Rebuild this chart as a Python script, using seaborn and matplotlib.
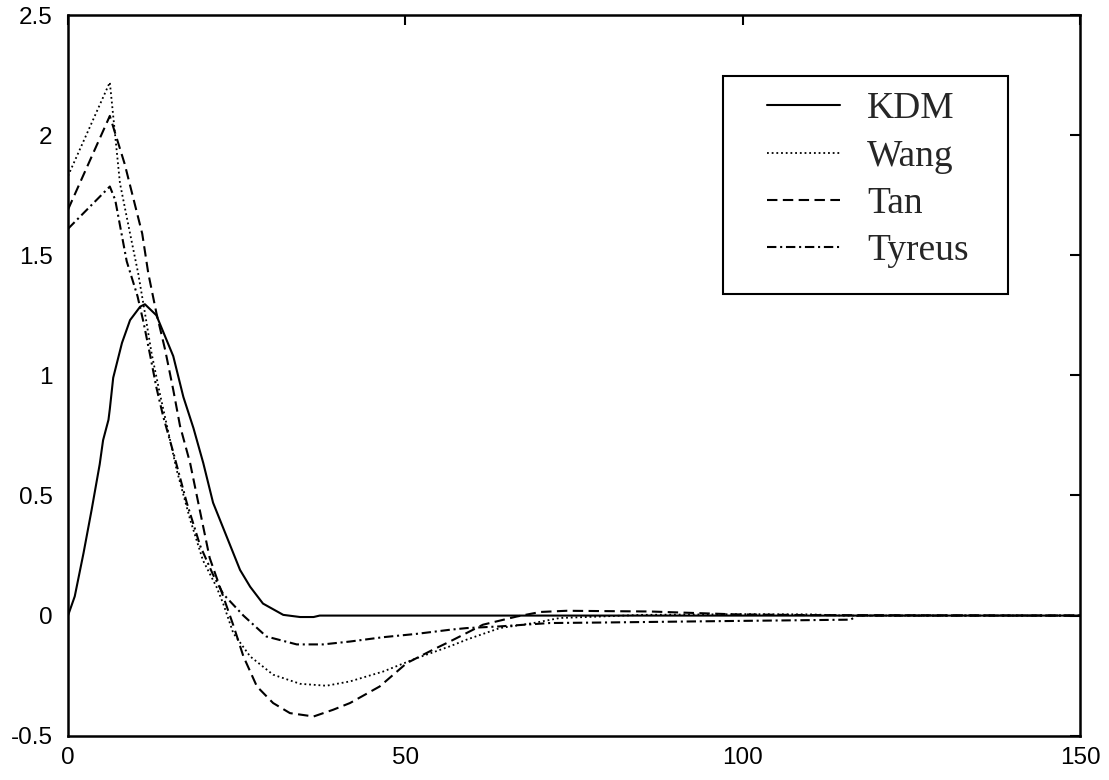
import numpy as np
import pandas as pd
import matplotlib
matplotlib.use("Agg")
import matplotlib.pyplot as plt
from matplotlib.patches import Rectangle
import seaborn as sns

# ---------------- data ----------------
kdm_t = [0, 1.0, 2.3, 3.5, 4.7, 5.2, 6.0, 6.2, 6.7, 8.0, 9.2, 10.7, 11.4, 13.1,
         15.6, 17.1, 18.6, 20.05, 21.5, 23.5, 25.5, 27.0, 28.9, 31.9, 34.4, 36.4,
         37.3, 150]
kdm_y = [0, 0.08, 0.26, 0.44, 0.63, 0.73, 0.815, 0.86, 0.99, 1.135, 1.23, 1.286,
         1.296, 1.25, 1.08, 0.91, 0.78, 0.635, 0.47, 0.33, 0.19, 0.12, 0.05, 0.003,
         -0.006, -0.006, 0, 0]

wang_t = [0, 6.2, 7.7, 9.2, 10.4, 11.4, 12.4, 13.6, 14.9, 16.1, 18.1, 20.0, 22.0,
          23.0, 24.5, 27.0, 30.4, 34.4, 38.3, 41.8, 46.7, 51.7, 56.6, 59.1, 64.0,
          69.0, 72.9, 78.8, 85.0, 100.0, 110.0, 115.0, 150]
wang_y = [1.83, 2.22, 1.80, 1.59, 1.425, 1.26, 1.09, 0.926, 0.76, 0.607, 0.40, 0.23,
          0.12, 0.05, -0.073, -0.17, -0.246, -0.284, -0.292, -0.274, -0.233, -0.177,
          -0.128, -0.10, -0.052, -0.031, -0.01, -0.004, 0.003, 0.006, 0.005, 0, 0]

tan_t = [0, 6.2, 8.4, 11.0, 11.9, 13.1, 14.4, 15.6, 16.6, 18.1, 19.6, 21.0, 22.5,
         24.5, 26.0, 28.0, 30.4, 32.9, 36.4, 39.3, 41.8, 46.2, 50.2, 54.1, 56.6,
         61.5, 66.5, 70.0, 73.9, 86.3, 93.7, 99.0, 110.0, 150]
tan_y = [1.69, 2.08, 1.88, 1.59, 1.425, 1.26, 1.106, 0.94, 0.79, 0.635, 0.43, 0.24,
         0.12, -0.04, -0.17, -0.295, -0.364, -0.406, -0.42, -0.392, -0.364, -0.295,
         -0.198, -0.142, -0.108, -0.038, -0.004, 0.015, 0.02, 0.017, 0.01, 0.005,
         0.002, 0]

tyreus_t = [0, 6.2, 7.0, 8.7, 10.3, 11.2, 12.2, 13.1, 14.1, 15.6, 17.6, 19.6, 21.5,
            23.0, 26.0, 29.4, 33.9, 37.8, 41.8, 46.7, 51.7, 56.6, 59.1, 64.0, 71.4,
            78.8, 93.7, 116.0, 117.0, 150]
tyreus_y = [1.61, 1.786, 1.73, 1.475, 1.33, 1.22, 1.08, 0.95, 0.83, 0.68, 0.47, 0.29,
            0.17, 0.09, 0, -0.087, -0.12, -0.12, -0.108, -0.09, -0.076, -0.059,
            -0.052, -0.045, -0.031, -0.029, -0.024, -0.017, 0, 0]

series_names = ["KDM", "Wang", "Tan", "Tyreus"]
x_ticks = [0, 50, 100, 150]
x_tick_labels = ["0", "50", "100", "150"]
y_ticks = [-0.5, 0, 0.5, 1, 1.5, 2, 2.5]
y_tick_labels = ["-0.5", "0", "0.5", "1", "1.5", "2", "2.5"]

# ---------------- styling ----------------
sns.set_style("white")
plt.rcParams["font.family"] = ["Liberation Sans", "DejaVu Sans"]

W, H = 1109, 780
fig = plt.figure(figsize=(W / 100, H / 100), dpi=100)
ax = fig.add_axes([68 / W, (H - 735.7) / H, 1012 / W, 720.7 / H])

styles = {
    "KDM": dict(linestyle="-", linewidth=1.5),
    "Wang": dict(linestyle=(0, (1, 1.6)), linewidth=1.3),
    "Tan": dict(linestyle=(0, (5, 2.6)), linewidth=1.5),
    "Tyreus": dict(linestyle=(0, (4.5, 1.8, 1, 1.8)), linewidth=1.5),
}
data = {
    "KDM": (kdm_t, kdm_y),
    "Wang": (wang_t, wang_y),
    "Tan": (tan_t, tan_y),
    "Tyreus": (tyreus_t, tyreus_y),
}

for name in series_names:
    t, y = data[name]
    df = pd.DataFrame({"t": t, "y": y})
    sns.lineplot(data=df, x="t", y="y", ax=ax, color="black", label=name,
                 estimator=None, sort=False, legend=False, **styles[name])

ax.set_xlim(0, 150)
ax.set_ylim(-0.5, 2.5)
ax.set_xticks(x_ticks)
ax.set_xticklabels(x_tick_labels)
ax.set_yticks(y_ticks)
ax.set_yticklabels(y_tick_labels)
ax.set_xlabel("")
ax.set_ylabel("")

for s in ax.spines.values():
    s.set_visible(True)
    s.set_color("black")
    s.set_linewidth(1.8)

ax.tick_params(axis="both", direction="in", length=7.5, width=1.5, color="black",
               labelsize=17.5, labelcolor="black", top=True, right=True)
ax.tick_params(axis="x", pad=8)
ax.tick_params(axis="y", pad=11)

# legend
handles, labels = ax.get_legend_handles_labels()
leg = ax.legend(handles, labels, loc="upper left",
                bbox_to_anchor=(767 / W, 1 - 92 / H), bbox_transform=fig.transFigure,
                frameon=False, borderpad=0, borderaxespad=0,
                handlelength=1.95, handletextpad=0.72, labelspacing=0.34,
                prop={"family": "Liberation Serif", "size": 27})
for line in leg.get_lines():
    line.set_color("black")

fig.add_artist(Rectangle((723 / W, (H - 294) / H), 285 / W, 218 / H,
                         transform=fig.transFigure, fill=False,
                         edgecolor="black", linewidth=1.5, zorder=5))

fig.savefig("out.png", dpi=100, facecolor="white")
